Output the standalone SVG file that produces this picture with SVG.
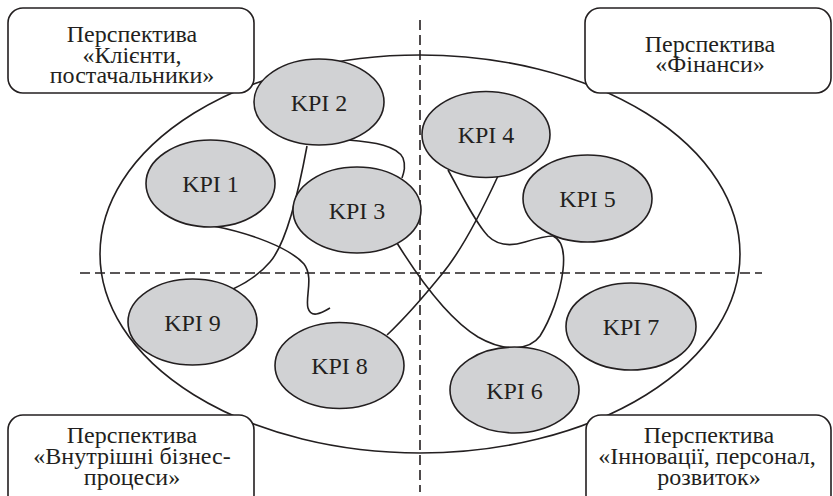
<svg xmlns="http://www.w3.org/2000/svg" width="833" height="496" viewBox="0 0 833 496">
<style>
.kpi{fill:#d1d2d4;stroke:#231f20;stroke-width:1.6}
.box{fill:#fff;stroke:#231f20;stroke-width:1.6}
.c{fill:none;stroke:#231f20;stroke-width:1.6}
.d{fill:none;stroke:#231f20;stroke-width:1.6;stroke-dasharray:10 5}
</style>
<rect width="833" height="496" fill="#fff"/>
<ellipse id="field" cx="420" cy="254" rx="320" ry="199" class="c"/>
<g id="connectors">
<path class="c" d="M307,146 C298,195 285,245 270,262 C258,276 246,283 233,289"/>
<path class="c" d="M213,226 C250,233 290,248 304,264 C314,277 305,298 308,308 C311,318 320,314 330,308"/>
<path class="c" d="M348,140 C375,142 397,146 403,158 C406,166 404,172 402,178"/>
<path class="c" d="M397,243 C420,280 450,320 478,337 C492,345 505,348 515,348"/>
<path class="c" d="M498,176 C480,215 462,250 442,274 C425,295 405,318 387,335"/>
<path class="c" d="M448,170 C462,195 475,222 488,236 C498,246 512,246 525,242 C538,238 545,236 553,236"/>
<path class="c" d="M553,236 C562,240 565,252 563,270 C560,295 550,320 540,336 C535,343 528,347 515,348"/>
</g>
<g id="axes">
<line class="d" x1="420" y1="20" x2="420" y2="492"/>
<line class="d" x1="80" y1="273" x2="762" y2="273"/>
</g>
<g font-family="Liberation Serif" font-size="24" fill="#231f20" text-anchor="middle">
<g id="kpi1"><ellipse class="kpi" cx="210.5" cy="183.5" rx="64.5" ry="43.5"/><text x="210.5" y="192">KPI 1</text></g>
<g id="kpi2"><ellipse class="kpi" cx="319" cy="102" rx="65" ry="43"/><text x="319" y="110.5">KPI 2</text></g>
<g id="kpi3"><ellipse class="kpi" cx="357" cy="210" rx="64" ry="43"/><text x="357" y="218.5">KPI 3</text></g>
<g id="kpi4"><ellipse class="kpi" cx="486" cy="134.5" rx="64" ry="43"/><text x="486" y="143">KPI 4</text></g>
<g id="kpi5"><ellipse class="kpi" cx="587.5" cy="198.5" rx="64.5" ry="43.5"/><text x="587.5" y="207">KPI 5</text></g>
<g id="kpi6"><ellipse class="kpi" cx="514.5" cy="390" rx="64.5" ry="43"/><text x="514.5" y="398.5">KPI 6</text></g>
<g id="kpi7"><ellipse class="kpi" cx="631" cy="326.5" rx="65" ry="43.5"/><text x="631" y="335">KPI 7</text></g>
<g id="kpi8"><ellipse class="kpi" cx="339.5" cy="365.5" rx="64.5" ry="43"/><text x="339.5" y="374">KPI 8</text></g>
<g id="kpi9"><ellipse class="kpi" cx="192.5" cy="322" rx="64.5" ry="43"/><text x="192.5" y="330.5">KPI 9</text></g>
<g id="persp-clients"><rect class="box" x="8" y="8" width="246" height="85" rx="15"/>
<text x="132" y="42">Перспектива</text><text x="132" y="62.5">«Клієнти,</text><text x="132" y="83">постачальники»</text></g>
<g id="persp-finance"><rect class="box" x="585" y="8" width="246" height="85" rx="15"/>
<text x="710" y="52">Перспектива</text><text x="710" y="72">«Фінанси»</text></g>
<g id="persp-internal"><rect class="box" x="8" y="415" width="246" height="95" rx="15"/>
<text x="132" y="443">Перспектива</text><text x="132" y="464">«Внутрішні бізнес-</text><text x="132" y="485">процеси»</text></g>
<g id="persp-innov"><rect class="box" x="586" y="415" width="245" height="95" rx="15"/>
<text x="709" y="443">Перспектива</text><text x="707" y="464">«Інновації, персонал,</text><text x="709" y="485">розвиток»</text></g>
</g>
</svg>
